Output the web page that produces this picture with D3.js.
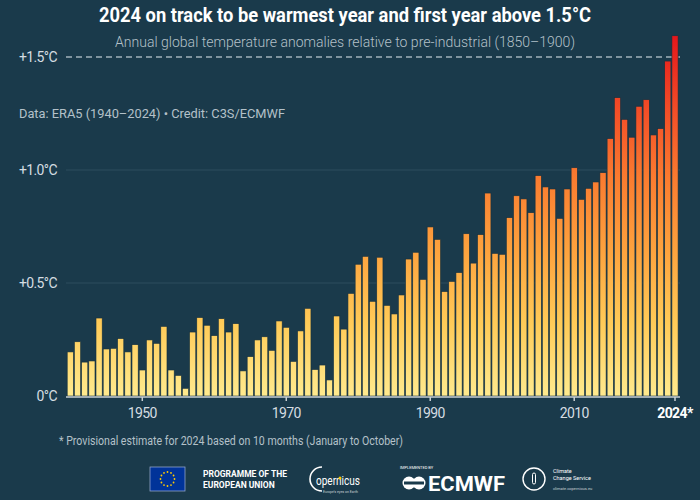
<!DOCTYPE html>
<html>
<head>
<meta charset="utf-8">
<script src="https://cdn.jsdelivr.net/npm/d3@7"></script>
<style>
  body { margin: 0; background: #1a3a4b; }
  text { font-family: Roboto, "Noto Sans", sans-serif; }
</style>
</head>
<body>
<script>
// annual anomalies vs 1850-1900, ERA5
let years = d3.range(1940, 2025);
let anomalies = [
  0.195, 0.24, 0.15, 0.155, 0.345, 0.208, 0.211, 0.254, 0.195, 0.227,
  0.115, 0.248, 0.233, 0.308, 0.115, 0.091, 0.034, 0.283, 0.347, 0.313,
  0.267, 0.342, 0.283, 0.32, 0.111, 0.174, 0.248, 0.262, 0.202, 0.332,
  0.304, 0.153, 0.288, 0.388, 0.117, 0.137, 0.071, 0.354, 0.296, 0.454,
  0.583, 0.618, 0.419, 0.614, 0.401, 0.363, 0.447, 0.606, 0.636, 0.516,
  0.748, 0.693, 0.462, 0.507, 0.546, 0.718, 0.588, 0.714, 0.898, 0.631,
  0.627, 0.789, 0.886, 0.872, 0.811, 0.975, 0.925, 0.916, 0.786, 0.916,
  1.01, 0.870, 0.919, 0.947, 0.988, 1.139, 1.32, 1.224, 1.145, 1.282,
  1.311, 1.155, 1.183, 1.482, 1.594
];
let xTicks = [1950, 1970, 1990, 2010, 2024];
let yTicks = [0, 0.5, 1.0, 1.5];
let yTickLabels = ["0°C", "+0.5°C", "+1.0°C", "+1.5°C"];

let data = years.map(function(y, i){ return {year: y, value: anomalies[i]}; });

var width = 700, height = 500;
var bg = "#1a3a4b";

var svg = d3.select("body").append("svg")
  .attr("width", width)
  .attr("height", height)
  .style("background", bg);

var xScale = d3.scaleBand().domain(years).range([66.7, 678.6]).paddingInner(0.14).paddingOuter(0.07);
var yScale = d3.scaleLinear().domain([0, 1.5]).range([396, 57]);

// gradient in absolute y space so short bars stay yellow
var grad = svg.append("defs").append("linearGradient")
  .attr("id", "heat")
  .attr("gradientUnits", "userSpaceOnUse")
  .attr("x1", 0).attr("x2", 0)
  .attr("y1", yScale(0)).attr("y2", yScale(1.6));
[["0", "#ffea8e"], ["0.2", "#ffcb58"], ["0.4", "#fda33e"], ["0.6", "#fa7c30"], ["0.8", "#f24b27"], ["1", "#e4161b"]]
  .forEach(function(s){ grad.append("stop").attr("offset", s[0]).attr("stop-color", s[1]); });

// title
svg.append("text")
  .text("2024 on track to be warmest year and first year above 1.5°C")
  .attr("x", 345).attr("y", 22)
  .attr("text-anchor", "middle")
  .attr("fill", "white")
  .attr("font-size", "20.5px")
  .attr("font-weight", "bold")
  .attr("textLength", 492)
  .attr("lengthAdjust", "spacingAndGlyphs");

svg.append("text")
  .text("Annual global temperature anomalies relative to pre-industrial (1850–1900)")
  .attr("x", 345).attr("y", 47)
  .attr("text-anchor", "middle")
  .attr("fill", "#b4c1c9")
  .attr("font-size", "15px")
  .attr("font-weight", 300)
  .attr("textLength", 460)
  .attr("lengthAdjust", "spacingAndGlyphs");

svg.append("text")
  .text("Data: ERA5 (1940–2024) • Credit: C3S/ECMWF")
  .attr("x", 19).attr("y", 118)
  .attr("fill", "#b4c1c9")
  .attr("font-size", "13.5px")
  .attr("textLength", 266)
  .attr("lengthAdjust", "spacingAndGlyphs");

// grid
svg.selectAll("line.grid")
  .data([0.5, 1.0])
  .enter()
  .append("line")
  .attr("class", "grid")
  .attr("x1", 66).attr("x2", 680)
  .attr("y1", function(d){ return yScale(d); })
  .attr("y2", function(d){ return yScale(d); })
  .attr("stroke", "#2c4d5e")
  .attr("stroke-width", 1);

svg.append("line")
  .attr("x1", 66).attr("x2", 680)
  .attr("y1", yScale(1.5)).attr("y2", yScale(1.5))
  .attr("stroke", "#a3b3bc")
  .attr("stroke-width", 1.5)
  .attr("stroke-dasharray", "6,4");

// y labels
svg.selectAll("text.ylab")
  .data(yTicks)
  .enter()
  .append("text")
  .attr("class", "ylab")
  .text(function(d, i){ return yTickLabels[i]; })
  .attr("x", 57)
  .attr("y", function(d){ return yScale(d) + 5; })
  .attr("text-anchor", "end")
  .attr("fill", "#d5dde2")
  .attr("font-size", "14px")
  .attr("letter-spacing", "-0.6px");

// bars
svg.selectAll("rect.bar")
  .data(data)
  .enter()
  .append("rect")
  .attr("class", "bar")
  .attr("x", function(d){ return xScale(d.year); })
  .attr("y", function(d){ return yScale(d.value); })
  .attr("width", xScale.bandwidth())
  .attr("height", function(d){ return yScale(0) - yScale(d.value); })
  .attr("fill", "url(#heat)")
  .attr("stroke", "#15303f")
  .attr("stroke-width", 0.6);

// x axis
var xAxis = d3.axisBottom(xScale).tickValues(xTicks).tickSize(4).tickPadding(7)
  .tickFormat(function(d){ return d == 2024 ? "2024*" : d; });

var gx = svg.append("g")
  .attr("transform", "translate(0," + (yScale(0) + 1) + ")")
  .call(xAxis);
gx.select(".domain").remove();
gx.append("line")
  .attr("x1", 66).attr("x2", 680)
  .attr("stroke", "#c9d0d4")
  .attr("stroke-width", 1.6);
gx.selectAll(".tick line").attr("stroke", "#c9d0d4").attr("stroke-width", 1.5);
gx.selectAll(".tick text")
  .attr("fill", "#d5dde2")
  .attr("font-size", "14px")
  .attr("font-family", "Roboto, sans-serif")
  .attr("letter-spacing", "-0.6px");
gx.selectAll(".tick text")
  .filter(function(d){ return d == 2024; })
  .attr("fill", "white")
  .attr("font-weight", "bold");

svg.append("text")
  .text("* Provisional estimate for 2024 based on 10 months (January to October)")
  .attr("x", 59).attr("y", 445)
  .attr("fill", "#b4c1c9")
  .attr("font-size", "12.5px")
  .attr("textLength", 344)
  .attr("lengthAdjust", "spacingAndGlyphs");

// footer logos, roughly
var f = svg.append("g");
f.append("rect").attr("x", 150).attr("y", 467).attr("width", 35).attr("height", 24)
  .attr("fill", "#003399").attr("stroke", "#8fa3c8").attr("stroke-width", 0.8);
d3.range(12).forEach(function(i){
  var a = i * Math.PI / 6;
  f.append("circle").attr("cx", 167.5 + 7 * Math.cos(a)).attr("cy", 479 + 7 * Math.sin(a))
    .attr("r", 0.9).attr("fill", "#ffcc00");
});
f.append("text").text("PROGRAMME OF THE").attr("x", 203).attr("y", 477)
  .attr("fill", "white").attr("font-size", "8.5px").attr("font-weight", "bold");
f.append("text").text("EUROPEAN UNION").attr("x", 203).attr("y", 488)
  .attr("fill", "white").attr("font-size", "8.5px").attr("font-weight", "bold");

f.append("path").attr("d", "M322,467 A12,12 0 1,0 322,491")
  .attr("fill", "none").attr("stroke", "white").attr("stroke-width", 1.6);
f.append("text").text("opernicus").attr("x", 316).attr("y", 485)
  .attr("fill", "white").attr("font-size", "13px")
  .attr("textLength", 44).attr("lengthAdjust", "spacingAndGlyphs");
f.append("circle").attr("cx", 340).attr("cy", 478).attr("r", 1.5).attr("fill", "#ffcc00");
f.append("text").text("Europe's eyes on Earth").attr("x", 323).attr("y", 493)
  .attr("fill", "#c8d0d5").attr("font-size", "3.5px");

f.append("text").text("IMPLEMENTED BY").attr("x", 400).attr("y", 469)
  .attr("fill", "white").attr("font-size", "4px");
f.append("circle").attr("cx", 409).attr("cy", 483).attr("r", 6.5).attr("fill", "white");
f.append("circle").attr("cx", 419).attr("cy", 483).attr("r", 6.5).attr("fill", "white");
f.append("rect").attr("x", 404).attr("y", 481.5).attr("width", 20).attr("height", 3).attr("fill", bg);
f.append("text").text("ECMWF").attr("x", 428).attr("y", 491)
  .attr("fill", "white").attr("font-size", "21px").attr("font-weight", "bold")
  .attr("textLength", 77).attr("lengthAdjust", "spacingAndGlyphs");

f.append("circle").attr("cx", 534).attr("cy", 479).attr("r", 11)
  .attr("fill", "none").attr("stroke", "white").attr("stroke-width", 1.4);
f.append("rect").attr("x", 532.5).attr("y", 473).attr("width", 3).attr("height", 11).attr("rx", 1.5)
  .attr("fill", "none").attr("stroke", "white").attr("stroke-width", 1);
f.append("text").text("Climate").attr("x", 553).attr("y", 473)
  .attr("fill", "white").attr("font-size", "5.5px");
f.append("text").text("Change Service").attr("x", 553).attr("y", 480)
  .attr("fill", "white").attr("font-size", "5.5px");
f.append("text").text("climate.copernicus.eu").attr("x", 553).attr("y", 490)
  .attr("fill", "#c8d0d5").attr("font-size", "4px");
</script>
</body>
</html>
